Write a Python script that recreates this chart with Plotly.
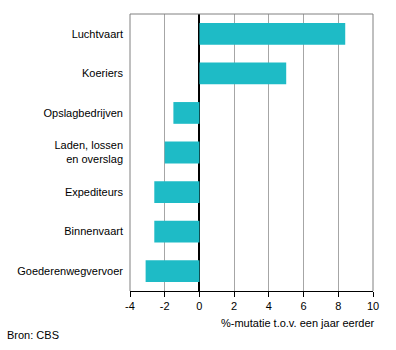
import plotly.graph_objects as go

categories = ["Luchtvaart", "Koeriers", "Opslagbedrijven", "Laden, lossen<br>en overslag",
              "Expediteurs", "Binnenvaart", "Goederenwegvervoer"]
values = [8.4, 5.0, -1.5, -2.0, -2.6, -2.6, -3.1]
tick_vals = [-4, -2, 0, 2, 4, 6, 8, 10]
tick_text = ["-4", "-2", "0", "2", "4", "6", "8", "10"]

font_family = "Liberation Sans, Arial, sans-serif"

fig = go.Figure(go.Bar(
    x=values, y=categories, orientation="h",
    marker=dict(color="#1EBBC6", line=dict(width=0)),
    width=0.55,
))

fig.update_layout(
    width=396, height=350,
    margin=dict(l=130, r=23, t=14, b=59),
    paper_bgcolor="white", plot_bgcolor="white",
    font=dict(family=font_family, size=11, color="black"),
    showlegend=False,
    xaxis=dict(
        range=[-4, 10], tickvals=tick_vals, ticktext=tick_text,
        showgrid=True, gridcolor="#A6A6A6", gridwidth=1,
        zeroline=True, zerolinecolor="black", zerolinewidth=1.5,
        showline=True, linecolor="black", linewidth=1,
        ticks="outside", ticklen=5, tickcolor="black", tickwidth=1,
        tickfont=dict(size=11), fixedrange=True,
    ),
    yaxis=dict(
        autorange="reversed", showgrid=False, zeroline=False, showline=False,
        ticks="", ticklabelstandoff=6, tickfont=dict(size=11), fixedrange=True,
    ),
    shapes=[
        dict(type="line", xref="paper", yref="paper", x0=0, x1=1, y0=1, y1=1,
             line=dict(color="#808080", width=1)),
        dict(type="line", xref="paper", yref="paper", x0=0, x1=0, y0=0, y1=1,
             line=dict(color="#808080", width=1)),
        dict(type="line", xref="paper", yref="paper", x0=1, x1=1, y0=0, y1=1,
             line=dict(color="#808080", width=1)),
    ],
    annotations=[
        dict(text="%-mutatie t.o.v. een jaar eerder", xref="paper", yref="paper",
             x=1.016, y=-0.085, xanchor="right", yanchor="top", showarrow=False,
             font=dict(size=11)),
        dict(text="Bron: CBS", xref="paper", yref="paper",
             x=-0.515, y=-0.13, xanchor="left", yanchor="top", showarrow=False,
             font=dict(size=11)),
    ],
)

fig.write_html("out.html")
